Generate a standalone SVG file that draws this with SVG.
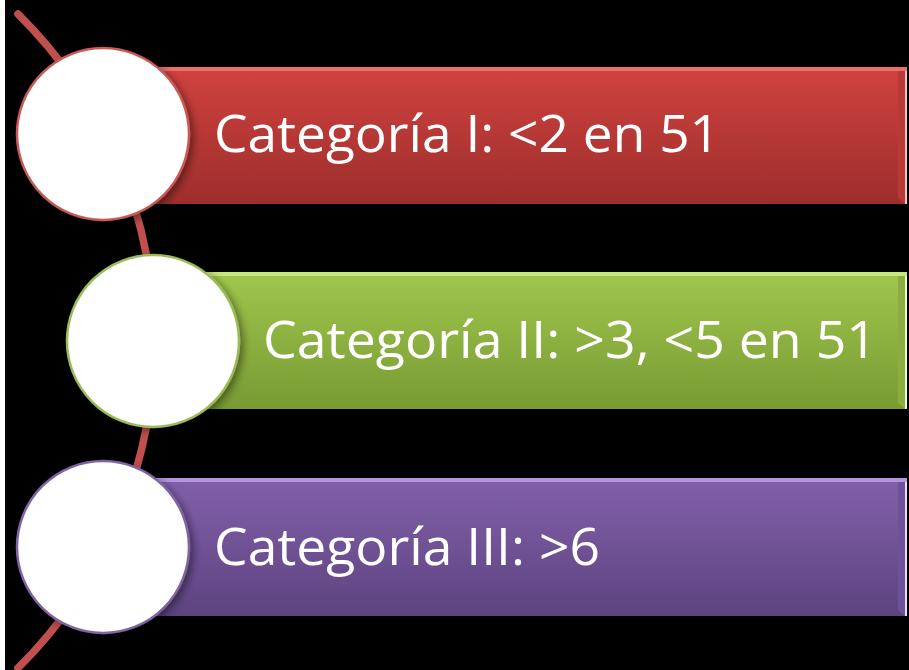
<svg xmlns="http://www.w3.org/2000/svg" width="909" height="670" viewBox="0 0 909 670">
  <defs>
    <linearGradient id="gRed" x1="0" y1="0" x2="0" y2="1">
      <stop offset="0" stop-color="#d1423f"/>
      <stop offset="1" stop-color="#9c2e2c"/>
    </linearGradient>
    <linearGradient id="gGreen" x1="0" y1="0" x2="0" y2="1">
      <stop offset="0" stop-color="#a0c74c"/>
      <stop offset="1" stop-color="#789a34"/>
    </linearGradient>
    <linearGradient id="gPurple" x1="0" y1="0" x2="0" y2="1">
      <stop offset="0" stop-color="#8260ab"/>
      <stop offset="1" stop-color="#5d437f"/>
    </linearGradient>
    <filter id="shadow" x="-20%" y="-20%" width="140%" height="140%">
      <feGaussianBlur in="SourceAlpha" stdDeviation="4"/>
      <feOffset dx="3" dy="3" result="b"/>
      <feComponentTransfer><feFuncA type="linear" slope="0.45"/></feComponentTransfer>
      <feMerge><feMergeNode/><feMergeNode in="SourceGraphic"/></feMerge>
    </filter>
  </defs>
  <style>
    .lbl { font-family: "Open Sans", Lato, "Liberation Sans", sans-serif; font-weight: 400; font-size: 52px; fill: #ffffff; }
    .circ { fill: #ffffff; stroke-width: 2.5; filter: url(#shadow); }
  </style>
  <rect x="0" y="0" width="909" height="670" fill="#000000"/>
  <rect x="0" y="0" width="5" height="670" fill="#ffffff"/>

  <g id="connectors">
    <path d="M 18 14 A 460 460 0 0 1 18 668" fill="none" stroke="#c0504d" stroke-width="7.5" stroke-linecap="round"/>
  </g>

  <g id="node1">
    <rect x="150" y="67" width="757" height="137" fill="url(#gRed)"/>
    <rect x="150" y="67" width="757" height="4" fill="#e8706c"/>
    <polygon points="898,71 905,71 905,204 898,198" fill="#b83936"/>
    <rect x="905" y="71" width="2" height="133" fill="#f6c6c4"/>
    <circle class="circ" cx="103" cy="134" r="86" stroke="#c85a57"/>
    <text class="lbl" x="214" y="152" textLength="506" lengthAdjust="spacingAndGlyphs">Categoría I: &lt;2 en 51</text>
  </g>

  <g id="node2">
    <rect x="200" y="272" width="707" height="137" fill="url(#gGreen)"/>
    <rect x="200" y="272" width="707" height="4" fill="#c8e67e"/>
    <polygon points="898,276 905,276 905,409 898,403" fill="#8aaf40"/>
    <rect x="905" y="276" width="2" height="133" fill="#eef9d2"/>
    <circle class="circ" cx="153" cy="341" r="86" stroke="#9bbb59"/>
    <text class="lbl" x="263" y="358" textLength="614" lengthAdjust="spacingAndGlyphs">Categoría II: &gt;3, &lt;5 en 51</text>
  </g>

  <g id="node3">
    <rect x="150" y="478" width="757" height="138" fill="url(#gPurple)"/>
    <rect x="150" y="478" width="757" height="4" fill="#b495e0"/>
    <polygon points="898,482 905,482 905,616 898,610" fill="#6e519a"/>
    <rect x="905" y="482" width="2" height="134" fill="#e6dcf8"/>
    <circle class="circ" cx="103" cy="547" r="86" stroke="#8064a2"/>
    <text class="lbl" x="214" y="565" textLength="386" lengthAdjust="spacingAndGlyphs">Categoría III: &gt;6</text>
  </g>
</svg>
